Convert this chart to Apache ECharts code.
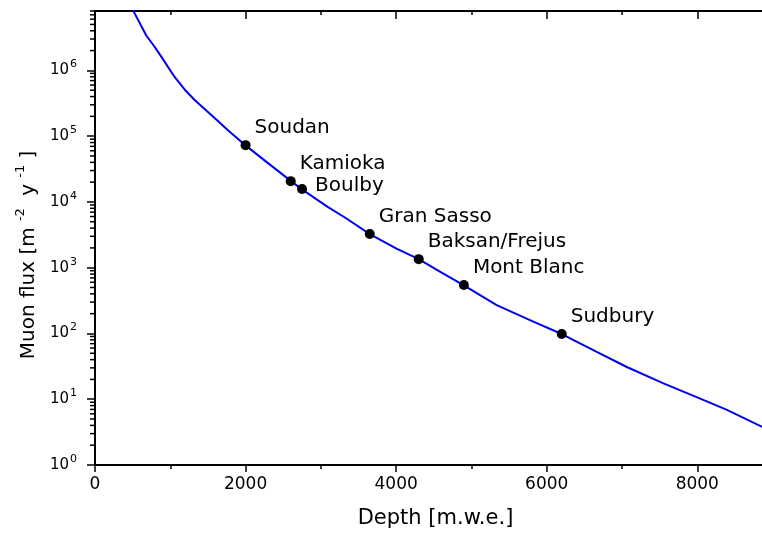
<!DOCTYPE html>
<html><head><meta charset="utf-8">
<script src="https://cdn.jsdelivr.net/npm/echarts@6/dist/echarts.min.js"></script>
<style>html,body{margin:0;padding:0;background:#fff}#c{width:762px;height:535px}</style>
</head><body><div id="c"></div>
<script>
// Curve (depth in m.w.e., flux in m^-2 y^-1)
const curveDepth = [480, 516, 681, 791, 880, 1057, 1190, 1323, 1545, 1766, 2000, 2298, 2600, 2750, 3085, 3340, 3650, 4005, 4300, 4581, 4900, 5335, 5822, 6200, 6665, 7064, 7551, 8039, 8394, 8863, 9000];
const curveFlux  = [9.3e6, 7.76e6, 3.39e6, 2.29e6, 1.62e6, 7.94e5, 5.13e5, 3.55e5, 2.09e5, 1.23e5, 7.24e4, 3.89e4, 2.09e4, 1.55e4, 8.5e3, 5.6e3, 3.24e3, 1.95e3, 1.35e3, 871, 537, 269, 151, 98, 52.5, 30.9, 17.4, 10.2, 6.9, 3.8, 3.2];
// Laboratories
const labNames = ['Soudan', 'Kamioka', 'Boulby', 'Gran Sasso', 'Baksan/Frejus', 'Mont Blanc', 'Sudbury'];
const labDepth = [2000, 2600, 2750, 3650, 4300, 4900, 6200];
const labFlux  = [7.3e4, 2.07e4, 1.57e4, 3.25e3, 1.35e3, 544, 98];
// Axes
const xTicks = [0, 2000, 4000, 6000, 8000];
const yTicks = [1, 10, 100, 1e3, 1e4, 1e5, 1e6];
const xMax = 8860, yMax = 8e6;

const FONT = 'DejaVu Sans';
const yMinor = [];
for (let k = 0; k <= 6; k++) for (let m = 2; m <= 9; m++) { const v = m * Math.pow(10, k); if (v <= yMax) yMinor.push(v); }

const chart = echarts.init(document.getElementById('c'));
const labelOffsets = {Boulby: [4, -3]};
chart.setOption({
  animation: false,
  textStyle: {fontFamily: FONT},
  grid: {left: 95, right: 0, top: 11, bottom: 70, containLabel: false, outerBoundsMode: 'none'},
  xAxis: [{
    type: 'value', min: 0, max: xMax, interval: 2000, position: 'bottom',
    axisLine: {lineStyle: {color: '#000', width: 2}},
    axisTick: {length: 7, lineStyle: {color: '#000', width: 1.5}, customValues: xTicks},
    minorTick: {show: true, splitNumber: 2, length: 4, lineStyle: {color: '#000', width: 1.5}},
    axisLabel: {customValues: xTicks, color: '#000', fontSize: 17, margin: 11, fontFamily: FONT,
      formatter: v => String(v)},
    splitLine: {show: false},
    name: 'Depth [m.w.e.]', nameLocation: 'middle', nameGap: 43,
    nameTextStyle: {color: '#000', fontSize: 21, fontFamily: FONT, padding: [0, 0, 0, 14]}
  }, {
    type: 'value', min: 0, max: xMax, interval: 2000, position: 'top',
    axisLine: {lineStyle: {color: '#000', width: 2}},
    axisTick: {inside: true, length: 8, lineStyle: {color: '#000', width: 1.5}, customValues: xTicks},
    minorTick: {show: true, splitNumber: 2, length: 4, lineStyle: {color: '#000', width: 1.5}},
    axisLabel: {show: false},
    splitLine: {show: false}
  }],
  yAxis: {
    type: 'log', logBase: 10, min: 1, max: yMax,
    axisLine: {show: true, lineStyle: {color: '#000', width: 2}},
    axisTick: {show: true, length: 8, lineStyle: {color: '#000', width: 1.5}, customValues: yTicks},
    axisLabel: {
      customValues: yTicks, margin: 18, color: '#000',
      formatter: v => '{b|10}{s|' + Math.round(Math.log10(v)) + '}',
      rich: {
        b: {fontSize: 15, fontFamily: FONT, color: '#000'},
        s: {fontSize: 11, fontFamily: FONT, color: '#000', padding: [0, 0, 12, 1]}
      }
    },
    splitLine: {show: false},
    name: '{a|Muon flux [m}{s| -2 }{a| y}{s| -1 }{a|]}',
    nameLocation: 'middle', nameGap: 48,
    nameTextStyle: {
      padding: [0, 34, 0, 0],
      rich: {
        a: {fontSize: 20, fontFamily: FONT, color: '#000'},
        s: {fontSize: 13, fontFamily: FONT, color: '#000', padding: [0, 2, 16, 2]}
      }
    }
  },
  series: [{
    type: 'line', name: 'flux', xAxisIndex: 0,
    data: curveDepth.map((d, i) => [d, curveFlux[i]]),
    showSymbol: false, smooth: false, clip: true,
    lineStyle: {color: '#0000ee', width: 2}, z: 2
  }, {
    type: 'scatter', name: 'labs', xAxisIndex: 0,
    data: labDepth.map((d, i) => ({
      value: [d, labFlux[i]], name: labNames[i],
      label: {offset: labelOffsets[labNames[i]] || [0, -17]}
    })),
    symbol: 'circle', symbolSize: 10, itemStyle: {color: '#000', opacity: 1}, z: 4,
    label: {show: true, position: 'right', distance: 4, formatter: p => p.name,
      color: '#000', fontSize: 20, fontFamily: FONT}
  }, {
    type: 'custom', name: 'yMinorTicks', xAxisIndex: 0, clip: false, silent: true, z: 5,
    data: yMinor.map(v => [0, v]),
    renderItem: (params, api) => {
      const p = api.coord([0, api.value(1)]);
      return {type: 'line', shape: {x1: p[0] - 5, y1: p[1], x2: p[0], y2: p[1]},
        style: {stroke: '#000', lineWidth: 1.5}};
    }
  }]
});
</script>
</body></html>
